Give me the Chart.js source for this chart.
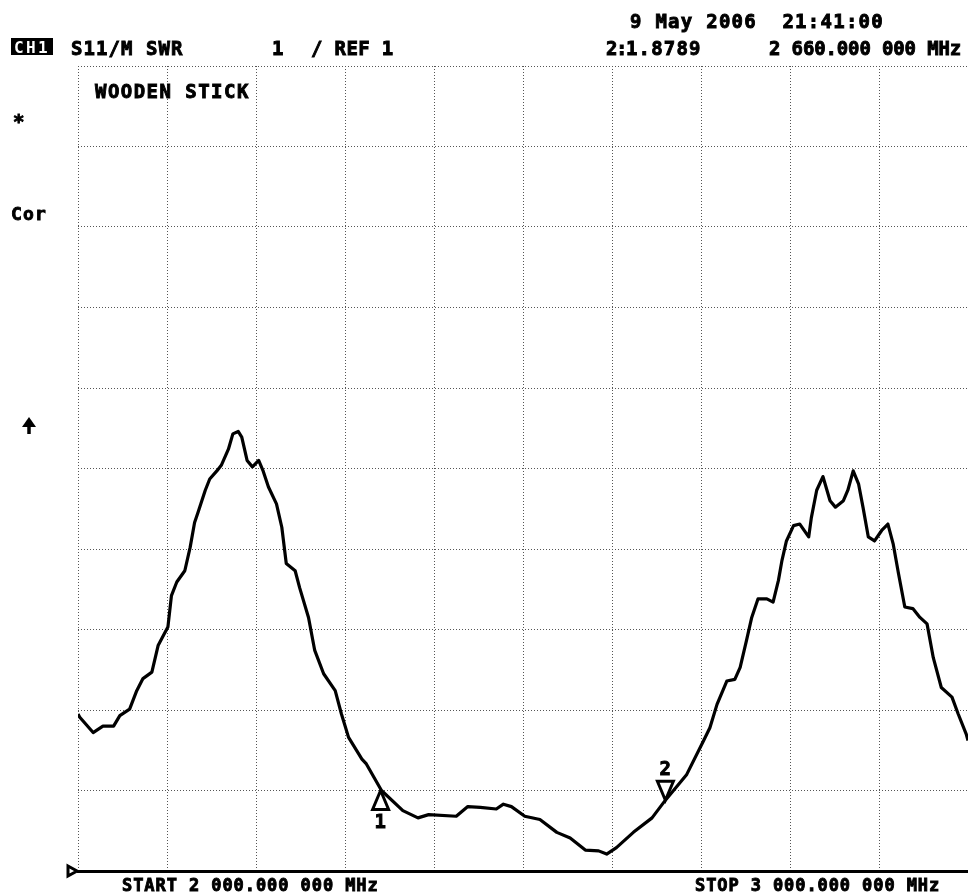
<!DOCTYPE html>
<html lang="en">
  <head>
    <meta charset="UTF-8" />
    <title>S11/M SWR - Wooden Stick</title>
    <script src="https://cdn.jsdelivr.net/npm/chart.js"></script>
    <style>
      body {
        margin: 0;
        background-color: #ffffff;
      }

      .chart {
        position: relative;
        width: 968px;
        height: 896px;
      }
    </style>
  </head>
  <body>
    <div class="chart">
      <canvas id="swrChart"></canvas>
    </div>
    <script>
      // trace (MHz, SWR)
      const freqMHz = [
        2000, 2002, 2017, 2028, 2040, 2047, 2058, 2066, 2073, 2083, 2090,
        2101, 2105, 2111, 2120, 2126, 2131, 2135, 2143, 2148, 2156, 2161,
        2169, 2174, 2180, 2184, 2190, 2196, 2203, 2208, 2214, 2223, 2229,
        2234, 2244, 2249, 2259, 2266, 2276, 2289, 2296, 2304, 2319, 2324,
        2341, 2365, 2382, 2394, 2425, 2438, 2452, 2470, 2478, 2487, 2502,
        2519, 2538, 2553, 2570, 2585, 2594, 2605, 2624, 2645, 2660, 2684,
        2703, 2710, 2718, 2729, 2738, 2744, 2751, 2757, 2764, 2774, 2781,
        2787, 2791, 2796, 2804, 2811, 2821, 2824, 2830, 2837, 2845, 2851,
        2860, 2865, 2871, 2877, 2882, 2888, 2895, 2903, 2910, 2916, 2922,
        2929, 2938, 2946, 2954, 2961, 2970, 2982, 2989, 2998, 3000,
      ];
      const swr = [
        2.95, 2.91, 2.72, 2.80, 2.80, 2.93, 3.01, 3.24, 3.39, 3.47, 3.80,
        4.03, 4.42, 4.59, 4.73, 5.02, 5.33, 5.46, 5.73, 5.87, 5.97, 6.04,
        6.24, 6.43, 6.46, 6.39, 6.10, 6.02, 6.10, 5.97, 5.77, 5.56, 5.27,
        4.82, 4.73, 4.52, 4.15, 3.74, 3.45, 3.24, 2.95, 2.66, 2.39, 2.33,
        2.00, 1.75, 1.66, 1.70, 1.68, 1.80, 1.79, 1.77, 1.83, 1.80, 1.68,
        1.64, 1.48, 1.41, 1.26, 1.25, 1.21, 1.29, 1.48, 1.66, 1.88, 2.20,
        2.62, 2.78, 3.07, 3.36, 3.38, 3.53, 3.86, 4.15, 4.38, 4.38, 4.34,
        4.61, 4.86, 5.10, 5.29, 5.31, 5.15, 5.39, 5.73, 5.90, 5.60, 5.52,
        5.60, 5.73, 5.97, 5.81, 5.52, 5.15, 5.10, 5.23, 5.31, 5.06, 4.69,
        4.28, 4.26, 4.15, 4.07, 3.65, 3.28, 3.16, 2.95, 2.70, 2.62,
      ];

      // markers: number, freq, value, triangle direction
      const markerNums = ["1", "2"];
      const markerFreq = [2340, 2660];
      const markerSwr = [2.0, 1.8789];
      const markerUp = [true, false];

      const refValue = 1;

      const fontFamily = '"DejaVu Sans Mono", "Liberation Mono", monospace';

      // screen annotations: text, x, baseline, char advance, size
      const labels = [
        ["9 May 2006  21:41:00", 630, 28, 12.7, 19],
        ["S11/M SWR", 71, 55, 12.5, 19],
        ["1", 272, 55, 12.5, 19],
        ["/ REF 1", 311, 55, 11.8, 19],
        ["2:", 606, 55, 10, 19],
        ["1.8789", 626, 55, 12.6, 19],
        ["2 660.000 000 MHz", 769, 55, 11.3, 19],
        ["WOODEN STICK", 95, 98, 12.9, 19],
        ["*", 13, 128, 12, 19],
        ["Cor", 11, 220, 12, 18],
        ["START 2 000.000 000 MHz", 122, 891, 11.16, 17],
        ["STOP 3 000.000 000 MHz", 695, 891, 11.14, 17],
      ];

      function drawMono(ctx, text, x, y, step, size, color) {
        ctx.font = "bold " + size + "px " + fontFamily;
        ctx.fillStyle = color || "#000";
        ctx.strokeStyle = color || "#000";
        ctx.lineWidth = 0.9;
        ctx.textBaseline = "alphabetic";
        ctx.textAlign = "left";
        for (let i = 0; i < text.length; i++) {
          ctx.fillText(text[i], x + i * step, y);
          ctx.strokeText(text[i], x + i * step, y);
        }
      }

      const screenText = {
        id: "screenText",
        afterDraw(chart) {
          const ctx = chart.ctx;
          const xs = chart.scales.x;
          const ys = chart.scales.y;
          ctx.save();

          // CH1 inverted tag
          ctx.fillStyle = "#000";
          ctx.fillRect(11, 38, 42, 17);
          ctx.font = "bold 16px " + fontFamily;
          ctx.fillStyle = "#fff";
          ["C", "H", "1"].forEach((c, i) => ctx.fillText(c, 14 + i * 12, 53));

          labels.forEach((l) => drawMono(ctx, l[0], l[1], l[2], l[3], l[4]));

          // arrow on the left edge
          ctx.strokeStyle = "#000";
          ctx.fillStyle = "#000";
          ctx.lineWidth = 3.5;
          ctx.beginPath();
          ctx.moveTo(29, 434);
          ctx.lineTo(29, 421);
          ctx.stroke();
          ctx.beginPath();
          ctx.moveTo(22, 427);
          ctx.lineTo(29, 417);
          ctx.lineTo(36, 427);
          ctx.closePath();
          ctx.fill();

          // reference position pointer
          const ry = ys.getPixelForValue(refValue);
          const rx = xs.left;
          ctx.lineWidth = 3;
          ctx.fillStyle = "#fff";
          ctx.beginPath();
          ctx.moveTo(rx - 10, ry - 5);
          ctx.lineTo(rx - 1, ry);
          ctx.lineTo(rx - 10, ry + 5);
          ctx.closePath();
          ctx.fill();
          ctx.stroke();

          // markers
          for (let i = 0; i < markerNums.length; i++) {
            const mx = xs.getPixelForValue(markerFreq[i]);
            const my = ys.getPixelForValue(markerSwr[i]);
            const d = markerUp[i] ? 1 : -1;
            ctx.beginPath();
            ctx.moveTo(mx, my);
            ctx.lineTo(mx - 8, my + d * 19);
            ctx.lineTo(mx + 8, my + d * 19);
            ctx.closePath();
            ctx.fillStyle = "#fff";
            ctx.fill();
            ctx.strokeStyle = "#000";
            ctx.lineWidth = 3;
            ctx.stroke();
            const ty = markerUp[i] ? my + 37 : my - 25;
            drawMono(ctx, markerNums[i], mx - 6, ty, 12, 19);
          }
          ctx.restore();
        },
      };

      const points = freqMHz.map((f, i) => ({ x: f, y: swr[i] }));

      new Chart(document.getElementById("swrChart"), {
        type: "line",
        data: {
          datasets: [
            {
              label: "S11 SWR",
              data: points,
              borderColor: "#000",
              borderWidth: 3.2,
              borderJoinStyle: "round",
              pointRadius: 0,
              tension: 0,
              fill: false,
            },
          ],
        },
        options: {
          responsive: true,
          maintainAspectRatio: false,
          animation: false,
          layout: {
            padding: { left: 78, right: 0, top: 66, bottom: 25 },
          },
          scales: {
            x: {
              type: "linear",
              min: 2000,
              max: 3000,
              ticks: { display: false, stepSize: 100 },
              grid: { color: "#555", lineWidth: 1, drawTicks: false },
              border: { display: true, color: "#000", width: 3, dash: [1, 2] },
            },
            y: {
              min: 1,
              max: 11,
              ticks: { display: false, stepSize: 1 },
              grid: { color: "#555", lineWidth: 1, drawTicks: false },
              border: { display: false, dash: [1, 2] },
            },
          },
          plugins: {
            legend: { display: false },
            tooltip: { enabled: false },
          },
        },
        plugins: [screenText],
      });
    </script>
  </body>
</html>
